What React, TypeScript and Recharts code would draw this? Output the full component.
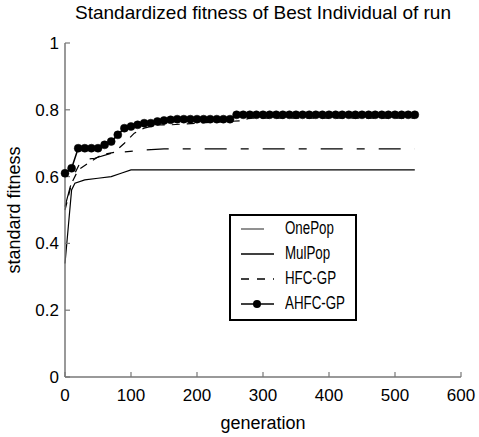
import { CartesianGrid, Legend, Line, LineChart, XAxis, YAxis } from "recharts";

const xTicks = [0, 100, 200, 300, 400, 500, 600];
const yTicks = [0, 0.2, 0.4, 0.6, 0.8, 1];

const onePopGen = [0, 8, 15, 25, 45, 70, 110, 150, 530];
const onePopVal = [0.51, 0.57, 0.61, 0.65, 0.655, 0.67, 0.678, 0.683, 0.683];

const mulPopGen = [0, 5, 10, 15, 30, 50, 70, 85, 100, 530];
const mulPopVal = [0.34, 0.45, 0.56, 0.58, 0.59, 0.595, 0.6, 0.61, 0.62, 0.62];

const hfcGen = [0, 10, 20, 35, 55, 75, 90, 105, 120, 140, 160, 200, 265, 280, 530];
const hfcVal = [0.5, 0.58, 0.62, 0.64, 0.665, 0.673, 0.7, 0.73, 0.745, 0.755, 0.755, 0.76, 0.767, 0.775, 0.775];

const ahfcGen = [
  0, 10, 20, 30, 40, 50, 60, 70, 80, 90, 100, 110, 120, 130, 140, 150, 160, 170, 180, 190,
  200, 210, 220, 230, 240, 250, 260, 270, 280, 290, 300, 310, 320, 330, 340, 350, 360, 370,
  380, 390, 400, 410, 420, 430, 440, 450, 460, 470, 480, 490, 500, 510, 520, 530,
];
const ahfcVal = [
  0.61, 0.625, 0.685, 0.685, 0.685, 0.685, 0.695, 0.705, 0.725, 0.745, 0.75, 0.755, 0.76, 0.76,
  0.765, 0.768, 0.77, 0.772, 0.772, 0.772, 0.772, 0.772, 0.772, 0.772, 0.772, 0.772, 0.785, 0.785,
  0.785, 0.785, 0.785, 0.785, 0.785, 0.785, 0.785, 0.785, 0.785, 0.785, 0.785, 0.785, 0.785, 0.785,
  0.785, 0.785, 0.785, 0.785, 0.785, 0.785, 0.785, 0.785, 0.785, 0.785, 0.785, 0.785,
];

const toRows = (gens: number[], vals: number[]) => gens.map((g, i) => ({ gen: g, v: vals[i] }));

const series = [
  { name: "OnePop", rows: toRows(onePopGen, onePopVal), dash: "22 14 8 14", dot: false },
  { name: "MulPop", rows: toRows(mulPopGen, mulPopVal), dash: undefined, dot: false },
  { name: "HFC-GP", rows: toRows(hfcGen, hfcVal), dash: "8 7", dot: false },
  { name: "AHFC-GP", rows: toRows(ahfcGen, ahfcVal), dash: undefined, dot: true },
];

const FONT = "'Liberation Sans', Arial, sans-serif";
const AXIS = "#777";

function LegendBox() {
  return (
    <div
      style={{
        position: "relative",
        width: 124,
        height: 103,
        border: "2px solid #000",
        background: "#fff",
        fontFamily: FONT,
        fontSize: 18,
        whiteSpace: "nowrap",
      }}
    >
      {series.map((s, i) => (
        <div key={s.name} style={{ position: "absolute", left: 0, top: i * 25, height: 25, display: "flex", alignItems: "center" }}>
          <svg width={46} height={20} style={{ marginLeft: 8 }}>
            <line
              x1={2}
              x2={i === 0 ? 25 : 35}
              y1={10}
              y2={10}
              stroke={i === 0 ? "#555" : "#000"}
              strokeWidth={1.3}
              strokeDasharray={s.dash === "8 7" ? "8 8" : undefined}
            />
            {s.dot ? <circle cx={18} cy={10} r={4} fill="#000" /> : null}
          </svg>
          <span style={{ color: "#000", display: "inline-block", transform: "scaleX(0.74)", transformOrigin: "left center" }}>
            {s.name}
          </span>
        </div>
      ))}
    </div>
  );
}

export default function App() {
  return (
    <div style={{ position: "fixed", left: 0, top: 0, width: 479, height: 437, background: "#fff" }}>
      <div
        style={{
          position: "absolute",
          left: 65,
          width: 396,
          top: 2,
          textAlign: "center",
          fontFamily: FONT,
          fontSize: 19,
          color: "#000",
          whiteSpace: "nowrap",
        }}
      >
        Standardized fitness of Best Individual of run
      </div>
      <LineChart width={479} height={437} margin={{ top: 43, right: 18, bottom: 0, left: 0 }}>
        <XAxis
          type="number"
          dataKey="gen"
          domain={[0, 600]}
          ticks={xTicks}
          height={60}
          axisLine={{ stroke: AXIS, strokeWidth: 1.5 }}
          tickLine={{ stroke: AXIS, strokeWidth: 1.2 }}
          tickSize={-5}
          tickMargin={17}
          tick={{ fill: "#000", fontFamily: FONT, fontSize: 17 }}
          label={{ value: "generation", position: "insideBottom", offset: 8, fill: "#000", fontFamily: FONT, fontSize: 18 }}
          allowDuplicatedCategory={false}
        />
        <YAxis
          type="number"
          domain={[0, 1]}
          ticks={yTicks}
          width={65}
          axisLine={{ stroke: AXIS, strokeWidth: 1.5 }}
          tickLine={{ stroke: AXIS, strokeWidth: 1.2 }}
          tickSize={-5}
          tickMargin={11}
          tick={{ fill: "#000", fontFamily: FONT, fontSize: 17 }}
          label={{ value: "standard fitness", angle: -90, position: "insideLeft", offset: 14, fill: "#000", fontFamily: FONT, fontSize: 18, style: { textAnchor: "middle" } }}
        />
        <CartesianGrid stroke="none" />
        {series.map((s) => (
          <Line
            key={s.name}
            data={s.rows}
            dataKey="v"
            name={s.name}
            type="linear"
            stroke="#000"
            strokeWidth={s.dot ? 1.5 : 1.2}
            strokeDasharray={s.dash}
            dot={s.dot ? { r: 4, fill: "#000", stroke: "#000", strokeWidth: 0.5 } : false}
            isAnimationActive={false}
          />
        ))}
        <Legend
          layout="vertical"
          align="center"
          verticalAlign="middle"
          content={() => <LegendBox />}
          wrapperStyle={{ position: "absolute", left: 229, top: 214, width: 128, height: 107 }}
        />
      </LineChart>
    </div>
  );
}
